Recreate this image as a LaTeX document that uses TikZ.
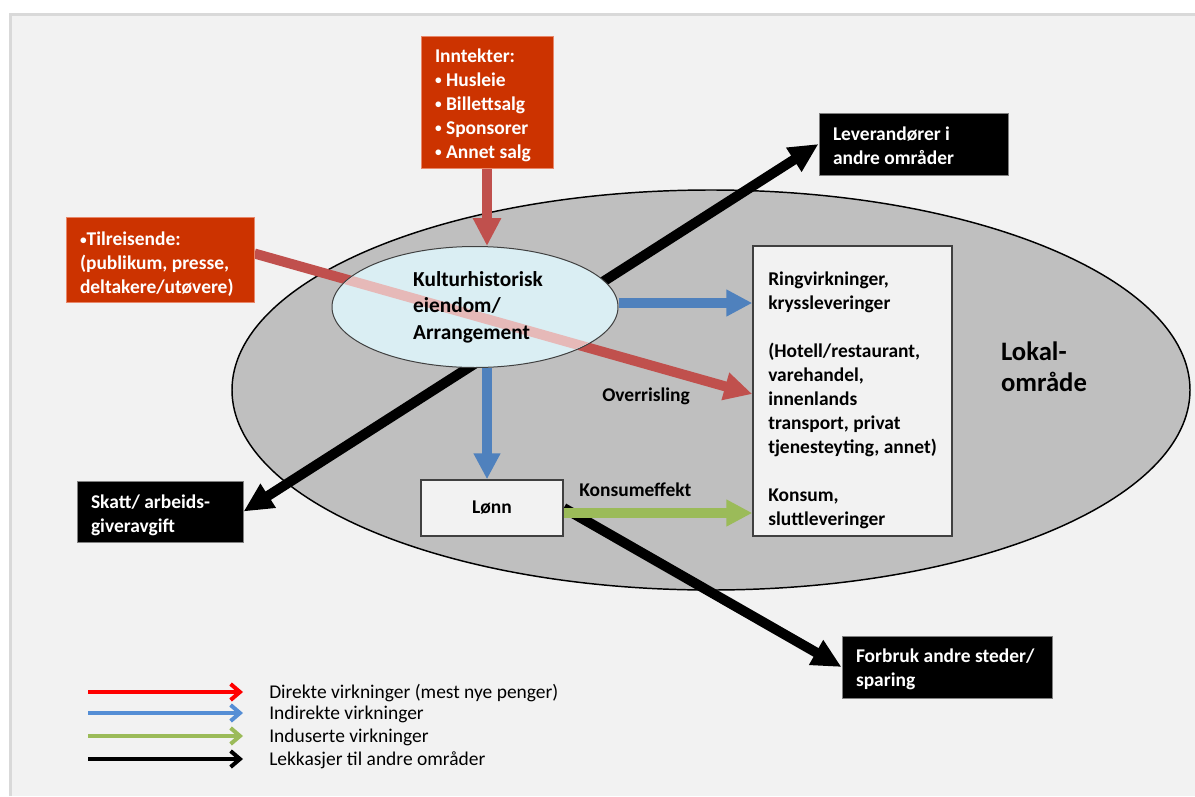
\documentclass[tikz,border=0pt]{standalone}
\usepackage{fontspec}
\setmainfont{Carlito}
\usetikzlibrary{arrows.meta,shapes.geometric}
\pgfdeclarelayer{back}
\pgfdeclarelayer{lines}
\pgfdeclarelayer{front}
\pgfsetlayers{back,lines,main,front}
\definecolor{bgc}{HTML}{F2F2F2}
\definecolor{framec}{HTML}{D9D9D9}
\definecolor{areac}{HTML}{BFBFBF}
\definecolor{innerc}{HTML}{DAEEF3}
\definecolor{boxred}{HTML}{CC3300}
\definecolor{boxredline}{HTML}{E8876A}
\definecolor{arrred}{HTML}{C0504D}
\definecolor{arrpink}{HTML}{E6B9B8}
\definecolor{arrblue}{HTML}{4F81BD}
\definecolor{arrgreen}{HTML}{9BBB59}
\definecolor{legblue}{HTML}{558ED5}
\definecolor{boxedge}{HTML}{404040}
\newcommand\smallbul{{\fontsize{10}{10}\selectfont\raisebox{1.2pt}{•}}}
\newcommand\topstrut[1]{\rule{0pt}{#1}}
\begin{document}
\begin{tikzpicture}[x=0.75pt,y=-0.75pt,
  txt/.style={font=\fontsize{14.6}{18}\selectfont\bfseries},
  legtxt/.style={font=\fontsize{14.6}{18}\selectfont, anchor=west, inner sep=0pt},
  redbox/.style={txt, draw=boxredline, line width=0.75pt, fill=boxred, text=white, align=flush left, inner xsep=10.5pt, inner ysep=0pt},
  blackbox/.style={txt, draw=gray, line width=0.75pt, fill=black, text=white, align=flush left, inner xsep=10.5pt, inner ysep=0pt},
  whitebox/.style={txt, draw=boxedge, line width=1.1pt, fill=bgc},
  redarrow/.style={draw=arrred, line width=7.5pt, -{Triangle[width=20pt,length=21pt]}},
  bluearrow/.style={draw=arrblue, line width=6.8pt, -{Triangle[width=19pt,length=19.5pt]}},
  greenarrow/.style={draw=arrgreen, line width=6.8pt, -{Triangle[width=19pt,length=19.5pt]}},
  blackarrow/.style={draw=black, line width=7.5pt},
  legarrow/.style={line width=3pt, -{Straight Barb[length=7pt,width=12pt]}}
]
\useasboundingbox (0,0) rectangle (1195,796);
\begin{pgfonlayer}{back}
\fill[white] (0,0) rectangle (1195,796);
\fill[bgc] (9,13) rectangle (1195,796);
\draw[framec,line width=2.25pt] (10.5,796) -- (10.5,14.5) -- (1195,14.5);
\draw[fill=areac, line width=1.1pt] (711,390) ellipse [x radius=359.25pt, y radius=150pt];
\end{pgfonlayer}

% nodes
\node[ellipse, draw=boxedge, line width=0.75pt, fill=innerc, minimum width=214.5pt, minimum height=90.75pt, inner sep=0pt] (kh) at (475,307) {};
\node[redbox, text width=78pt, minimum height=99pt] (inn) at (487,102) {\topstrut{15pt}Inntekter:\\\smallbul{} Husleie\\\smallbul{} Billettsalg\\\smallbul{} Sponsorer\\\smallbul{} Annet salg};
\node[redbox, text width=120pt, minimum height=63.75pt] (til) at (160,259.5) {\topstrut{17.5pt}\smallbul Tilreisende:\\(publikum, presse,\\deltakere/utøvere)};
\node[blackbox, text width=103.5pt, minimum height=45.75pt] (skatt) at (160,511.5) {\topstrut{16pt}Skatt/ arbeids-\\giveravgift};
\node[blackbox, text width=120.75pt, minimum height=46.5pt] (lev) at (913.5,144) {\topstrut{13.5pt}Leverandører i\\andre områder};
\node[blackbox, text width=136.5pt, minimum height=46.5pt] (forbruk) at (947,667) {\topstrut{13pt}Forbruk andre steder/\\sparing};
\node[whitebox, minimum width=106.5pt, minimum height=42pt] (lonn) at (492,508) {Lønn};
\node[whitebox, minimum width=149.25pt, minimum height=217.5pt] (rv) at (852.5,391) {};
\node[txt, align=flush left, anchor=north west, inner sep=0pt] (rvtext) at (768,272) {Ringvirkninger,\\kryssleveringer\\[18pt](Hotell/restaurant,\\varehandel,\\innenlands\\transport, privat\\tjenesteyting, annet)\\[18pt]Konsum,\\sluttleveringer};

\node[txt, anchor=west, inner sep=0pt] (over) at (602,396) {Overrisling};
\node[txt, anchor=west, inner sep=0pt] (konsum) at (579,490) {Konsumeffekt};
\node[font=\fontsize{20}{23}\selectfont\bfseries, align=flush left] (lokal) at (1044,367) {Lokal-\\område};

% connectors
\coordinate (redA) at ([yshift=4.5pt]til.east);
\coordinate (redB) at ([yshift=-2.25pt]rv.west);
\coordinate (blueA) at ([yshift=3pt]kh.east);
\coordinate (greenA) at ([yshift=-3.75pt]lonn.east);
\begin{pgfonlayer}{lines}
\draw[blackarrow, {Triangle[width=20pt,length=22pt]}-{Triangle[width=20pt,length=22pt]}] (skatt.east) -- (lev.west);
\draw[blackarrow, -{Triangle[width=20pt,length=22pt]}] (lonn.east) -- (forbruk.west);
\draw[redarrow] (redA) -- (redB);
\draw[redarrow] (inn.south) -- (inn.south |- kh.north);
\draw[bluearrow] (blueA) -- (blueA -| rv.west);
\draw[bluearrow] (inn.south |- kh.south) -- (inn.south |- lonn.north);
\draw[greenarrow] (greenA) -- (greenA -| rv.west);
\end{pgfonlayer}

\begin{pgfonlayer}{front}
\begin{scope}
\clip (475,307) ellipse [x radius=106.5pt, y radius=44.6pt];
\draw[line width=7.5pt, arrpink] (redA) -- (redB);
\end{scope}
\node[font=\fontsize{16}{19.9}\selectfont\bfseries, align=flush left] (khtext) at (478,307) {Kulturhistorisk\\eiendom/\\Arrangement};
\end{pgfonlayer}

% legend
\coordinate (l1a) at (88,692); \coordinate (l1b) at (243,692);
\coordinate (l2a) at (88,713); \coordinate (l2b) at (243,713);
\coordinate (l3a) at (88,736); \coordinate (l3b) at (243,736);
\coordinate (l4a) at (88,759); \coordinate (l4b) at (243,759);
\draw[legarrow, red] (l1a) -- (l1b);
\draw[legarrow, legblue] (l2a) -- (l2b);
\draw[legarrow, arrgreen] (l3a) -- (l3b);
\draw[legarrow, black] (l4a) -- (l4b);
\node[legtxt] (leg1) at (269,693) {Direkte virkninger (mest nye penger)};
\node[legtxt] (leg2) at (269,714) {Indirekte virkninger};
\node[legtxt] (leg3) at (269,737) {Induserte virkninger};
\node[legtxt] (leg4) at (269,760) {Lekkasjer til andre områder};
\end{tikzpicture}
\end{document}
